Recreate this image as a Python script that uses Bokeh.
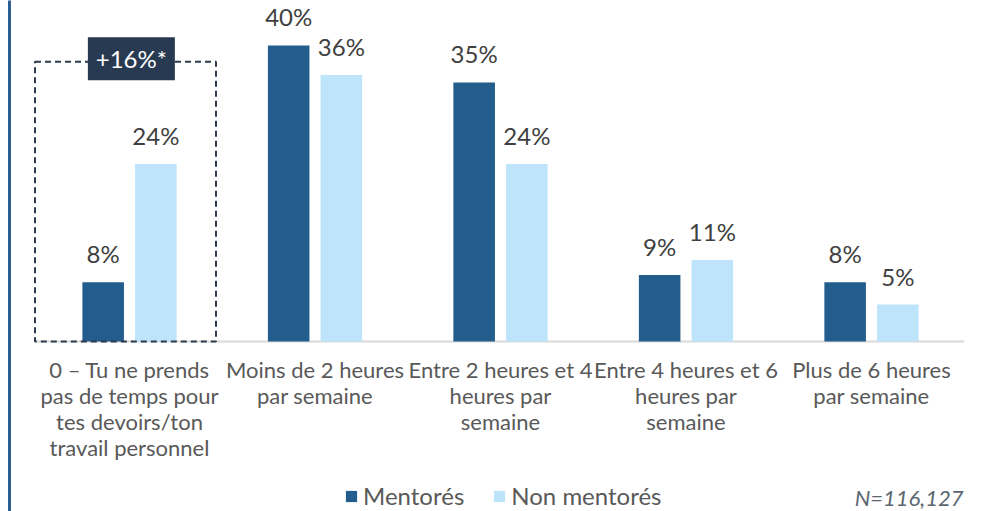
from bokeh.plotting import figure
from bokeh.models import (ColumnDataSource, Range1d, FactorRange, Legend, LegendItem,
                          Label, FixedTicker)
from bokeh.transform import dodge
from bokeh.core.properties import value
from bokeh.embed import file_html
from bokeh.resources import INLINE

categories = [
    "0 – Tu ne prends\npas de temps pour\ntes devoirs/ton\ntravail personnel",
    "Moins de 2 heures\npar semaine",
    "Entre 2 heures et 4\nheures par\nsemaine",
    "Entre 4 heures et 6\nheures par\nsemaine",
    "Plus de 6 heures\npar semaine",
]
mentores = [8, 40, 35, 9, 8]
non_mentores = [24, 36, 24, 11, 5]
series_names = ["Mentorés", "Non mentorés"]
diff_label = "+16%*"
diff_level = 37.8
n_label = "N=116,127"

DARK = "#235D8E"
LIGHT = "#BDE4FB"
NAVY = "#273A51"
FONT = "Lato"

src = ColumnDataSource(dict(
    cat=categories,
    m=mentores,
    n=non_mentores,
    m_lab=[f"{v}%" for v in mentores],
    n_lab=[f"{v}%" for v in non_mentores],
))

p = figure(x_range=FactorRange(factors=categories, range_padding=0.0588,
                               range_padding_units="percent"),
           y_range=Range1d(-22.97, 46.08),
           width=991, height=511, output_backend="svg", toolbar_location=None,
           min_border_left=9, min_border_right=0, min_border_top=0,
           min_border_bottom=0)
p.outline_line_color = None
p.background_fill_color = "white"
p.border_fill_color = "white"
p.grid.visible = False

# left vertical rule, drawn by the y axis line
ya = p.yaxis[0]
ya.ticker = FixedTicker(ticks=[])
ya.axis_line_color = "#2C5E94"
ya.axis_line_width = 3
ya.major_tick_line_color = None
ya.minor_tick_line_color = None
ya.major_tick_out = 0
ya.minor_tick_out = 0
ya.major_label_standoff = 0
ya.major_label_text_font_size = "0px"

xa = p.xaxis[0]
xa.fixed_location = 0
xa.axis_line_color = None
xa.major_tick_line_color = None
xa.minor_tick_line_color = None
xa.major_tick_out = 0
xa.major_tick_in = 0
xa.major_label_standoff = 14
xa.major_label_text_font = FONT
xa.major_label_text_font_size = "22px"
xa.major_label_text_color = "#595959"
xa.major_label_text_line_height = 0.97

# baseline
base_src = ColumnDataSource(dict(c0=[categories[0]], c1=[categories[-1]], y=[0]))
p.segment(x0=dodge("c0", -0.5, range=p.x_range), x1=dodge("c1", 0.5, range=p.x_range),
          y0="y", y1="y", source=base_src, line_color="#D9D9D9", line_width=2)

off = 0.142
bw = 0.224
r1 = p.vbar(x=dodge("cat", -off, range=p.x_range), top="m", width=bw, source=src,
            fill_color=DARK, line_color=None)
r2 = p.vbar(x=dodge("cat", off, range=p.x_range), top="n", width=bw, source=src,
            fill_color=LIGHT, line_color=None)

for field, lab, d in (("m", "m_lab", -off), ("n", "n_lab", off)):
    p.text(x=dodge("cat", d, range=p.x_range), y=field, text=lab, source=src,
           text_align="center", text_baseline="bottom", y_offset=-14,
           text_font=value(FONT), text_font_size="24px", text_color="#404040")

# highlighted group box
box_src = ColumnDataSource(dict(cat=[categories[0]], y=[diff_level / 2], h=[diff_level],
                                ty=[diff_level + 0.4], t=[diff_label]))
p.rect(x=dodge("cat", -0.0216, range=p.x_range), y="y", width=0.976, height="h",
       source=box_src, fill_color=None, line_color="#2B3A4E", line_width=2,
       line_dash="6 4")
p.rect(x=dodge("cat", 0.01, range=p.x_range), y="ty", width=87, height=43,
       width_units="screen", height_units="screen", source=box_src,
       fill_color=NAVY, line_color=None)
p.text(x=dodge("cat", 0.01, range=p.x_range), y="ty", text="t", source=box_src,
       text_align="center", text_baseline="middle", text_font=value(FONT),
       text_font_size="24px", text_color="white")

legend = Legend(items=[LegendItem(label=series_names[0], renderers=[r1]),
                       LegendItem(label=series_names[1], renderers=[r2])],
                location=(335, 1), orientation="horizontal",
                glyph_width=14, glyph_height=14, label_standoff=5, spacing=28,
                padding=0, margin=0, border_line_color=None,
                background_fill_alpha=0, label_text_font=FONT,
                label_text_font_size="24px", label_text_color="#595959",
                label_height=22)
p.add_layout(legend)

p.add_layout(Label(x=954, y=14, x_units="screen", y_units="screen", text=n_label,
                   text_align="right", text_baseline="middle", text_font=FONT,
                   text_font_style="italic", text_font_size="22px",
                   text_color="#5B6770"))

open("out.html", "w").write(file_html(p, INLINE))
